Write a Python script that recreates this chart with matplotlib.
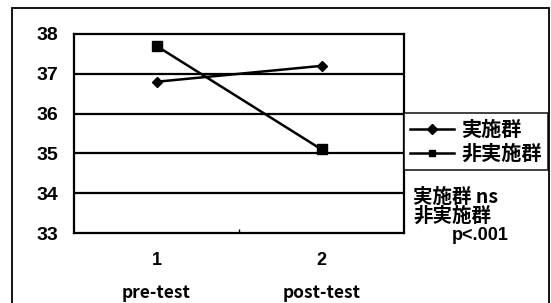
import matplotlib
matplotlib.use('Agg')
import matplotlib.pyplot as plt
from matplotlib.patches import Rectangle
from matplotlib.lines import Line2D
import matplotlib.transforms as mtransforms

plt.rcParams['font.family'] = ['Noto Sans CJK JP', 'DejaVu Sans']
plt.rcParams['font.weight'] = 'bold'

# data
tests = [1, 2]
test_names = ['pre-test', 'post-test']
group_a = [36.8, 37.2]   # 実施群
group_b = [37.7, 35.1]   # 非実施群
series_names = ['実施群', '非実施群']
yticks = [33, 34, 35, 36, 37, 38]
notes = ['実施群 ns', '非実施群']
p_note = 'p<.001'

fig = plt.figure(figsize=(5.51, 3.03), dpi=100)

# outer frame of the chart area
frame = Rectangle((12 / 551, -0.05), 537 / 551, 1.05 - 8 / 303, transform=fig.transFigure,
                  fill=False, edgecolor='black', linewidth=1.3)
fig.patches.append(frame)

ax = fig.add_axes([74 / 551, 1 - 233 / 303, 330 / 551, 199 / 303])
ax.plot(tests, group_a, color='black', lw=1.8, marker='D', markersize=5.5, label=series_names[0])
ax.plot(tests, group_b, color='black', lw=1.8, marker='s', markersize=6.5, label=series_names[1])

ax.set_xlim(0.5, 2.5)
ax.set_ylim(33, 38)
ax.set_yticks(yticks)
ax.set_yticklabels([str(v) for v in yticks], fontsize=14, fontweight='bold', family='Liberation Sans')
ax.tick_params(axis='y', length=0, pad=11)
for v in yticks[1:-1]:
    ax.axhline(v, color='black', lw=1.6, zorder=0)

ax.set_xticks([1.5])
ax.set_xticklabels([''])
ax.tick_params(axis='x', direction='in', length=3, width=1)

trans = mtransforms.blended_transform_factory(ax.transData, ax.transAxes)
for x, name in zip(tests, test_names):
    ax.text(x, -0.14, str(x), transform=trans, ha='center', va='center', fontsize=13,
            fontweight='bold', family='Liberation Sans')
    ax.text(x, -0.30, name, transform=trans, ha='center', va='center', fontsize=12.5, fontweight='bold')

for sp in ax.spines.values():
    sp.set_linewidth(1.6)
    sp.set_color('black')

handles = [Line2D([], [], color='black', lw=1.8, marker='D', markersize=5),
           Line2D([], [], color='black', lw=1.8, marker='s', markersize=5)]
leg = fig.legend(handles, series_names, loc='upper left', bbox_to_anchor=(404 / 551, 1 - 113 / 303),
                 frameon=True, fancybox=False, edgecolor='black', fontsize=14.5,
                 handlelength=2.2, handletextpad=0.35, borderpad=0.3, labelspacing=0.15,
                 borderaxespad=0)
leg.get_frame().set_linewidth(1.3)
for t in leg.get_texts():
    t.set_fontweight('bold')

note_y = [1 - 197 / 303, 1 - 216 / 303]
for txt, yy in zip(notes, note_y):
    fig.text(413 / 551, yy, txt, ha='left', va='center', fontsize=14, fontweight='bold')
fig.text(452 / 551, 1 - 236 / 303, p_note, ha='left', va='center', fontsize=13,
         fontweight='bold', family='Liberation Sans')

fig.savefig('out.png', dpi=100)
